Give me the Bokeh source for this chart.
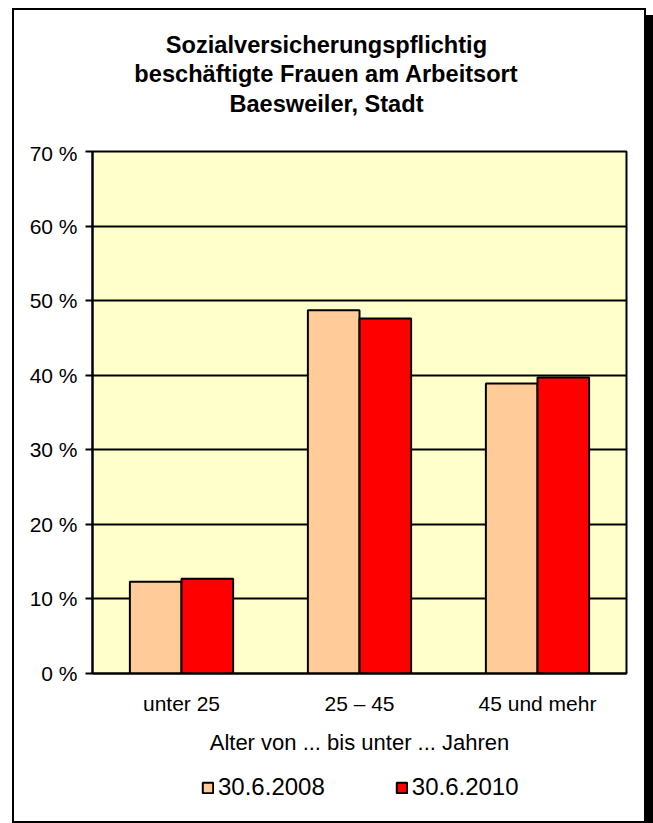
from bokeh.plotting import figure
from bokeh.models import FactorRange, Range1d, Legend, LegendItem, FixedTicker, ColumnDataSource
from bokeh.core.properties import value
from bokeh.transform import dodge
from bokeh.layouts import column
from bokeh.embed import file_html
from bokeh.resources import INLINE

categories = ["unter 25", "25 – 45", "45 und mehr"]
series_names = ["30.6.2008", "30.6.2010"]
values_2008 = [12.3, 48.7, 38.9]
values_2010 = [12.7, 47.6, 39.7]
y_ticks = [0, 10, 20, 30, 40, 50, 60, 70]
y_tick_labels = ["0 %", "10 %", "20 %", "30 %", "40 %", "50 %", "60 %", "70 %"]
title_lines = ["Sozialversicherungspflichtig", "beschäftigte Frauen am Arbeitsort", "Baesweiler, Stadt"]
x_title = "Alter von ... bis unter ... Jahren"
colors = ["#FFCC99", "#FF0000"]

FONT = "Liberation Sans"
W = 630

# ---------- title block ----------
TH = 131
pt = figure(width=W, height=TH, x_range=Range1d(0, W), y_range=Range1d(0, TH),
            output_backend="svg", toolbar_location=None,
            x_axis_location=None, y_axis_location=None,
            min_border_left=0, min_border_right=0, min_border_top=0, min_border_bottom=0)
pt.title = None
pt.outline_line_color = None
pt.grid.visible = False
pt.background_fill_color = "white"
pt.border_fill_color = "white"
pt.text(x=[276, 276, 276], y=[97, 68, 38], text=title_lines,
        text_align="center", text_baseline="middle",
        text_font=value(FONT), text_font_size="23.6px", text_font_style="bold", text_color="black")

# ---------- main chart ----------
src = ColumnDataSource(dict(cat=categories, v2008=values_2008, v2010=values_2010))
series_cols = ["v2008", "v2010"]
offsets = [-0.145, 0.145]

p = figure(
    x_range=FactorRange(*categories, range_padding=0),
    y_range=Range1d(0, 70),
    width=W, height=624,
    output_backend="svg", toolbar_location=None,
    min_border_left=78, min_border_right=18, min_border_top=10, min_border_bottom=92,
)
p.title = None
p.background_fill_color = "#FFFFCC"
p.border_fill_color = "white"
p.outline_line_color = "black"
p.outline_line_width = 2

for col, off, c in zip(series_cols, offsets, colors):
    p.vbar(x=dodge("cat", off, range=p.x_range), top=col, width=0.29, source=src,
           fill_color=c, line_color="black", line_width=2)

p.xgrid.grid_line_color = None
p.ygrid.grid_line_color = "black"
p.ygrid.grid_line_width = 2
p.ygrid.ticker = FixedTicker(ticks=y_ticks)

p.yaxis.ticker = FixedTicker(ticks=y_ticks)
p.yaxis.major_label_overrides = {t: l for t, l in zip(y_ticks, y_tick_labels)}
p.yaxis.major_tick_out = 7
p.yaxis.major_tick_in = 0
p.yaxis.minor_tick_out = 0
p.yaxis.minor_tick_in = 0
p.yaxis.major_tick_line_width = 2
p.yaxis.axis_line_width = 2
p.yaxis.major_label_standoff = 8
p.yaxis.major_label_text_font = FONT
p.yaxis.major_label_text_font_size = "21px"
p.yaxis.major_label_text_color = "black"

p.xaxis.major_tick_out = 0
p.xaxis.major_tick_in = 0
p.xaxis.axis_line_width = 2
p.xaxis.major_label_standoff = 18
p.xaxis.major_label_text_font = FONT
p.xaxis.major_label_text_font_size = "21px"
p.xaxis.major_label_text_color = "black"
p.xaxis.axis_label = x_title
p.xaxis.axis_label_text_font = FONT
p.xaxis.axis_label_text_font_size = "22px"
p.xaxis.axis_label_text_font_style = "normal"
p.xaxis.axis_label_text_color = "black"
p.xaxis.axis_label_standoff = 12

# ---------- legend block (hidden copies of the series, used only for the swatches) ----------
LH = 56
pl = figure(width=W, height=LH, x_range=FactorRange(*categories, range_padding=0),
            y_range=Range1d(1000, 1001),
            output_backend="svg", toolbar_location=None,
            x_axis_location=None, y_axis_location=None,
            min_border_left=0, min_border_right=0, min_border_top=0, min_border_bottom=0)
pl.title = None
pl.outline_line_color = None
pl.grid.visible = False
pl.background_fill_color = "white"
pl.border_fill_color = "white"
lr = [pl.vbar(x=dodge("cat", off, range=pl.x_range), top=col, width=0.29, source=src,
              fill_color=c, line_color="black", line_width=2, visible=False)
      for col, off, c in zip(series_cols, offsets, colors)]
legend = Legend(items=[LegendItem(label=series_names[i], renderers=[lr[i]]) for i in range(2)],
                orientation="horizontal", location=(109, 20), click_policy="none",
                glyph_width=13, glyph_height=13, label_standoff=4, spacing=70,
                label_text_font=FONT, label_text_font_size="24px", label_text_color="black",
                border_line_color=None, background_fill_alpha=0, padding=0, margin=0)
pl.add_layout(legend, "center")

layout = column(pt, p, pl, spacing=0)
layout.styles = {"border": "2px solid black", "box-shadow": "7px 7px 0 0 black",
                 "margin-left": "12px", "margin-top": "8px", "box-sizing": "content-box",
                 "background-color": "white"}

open("out.html", "w").write(file_html(layout, INLINE))
